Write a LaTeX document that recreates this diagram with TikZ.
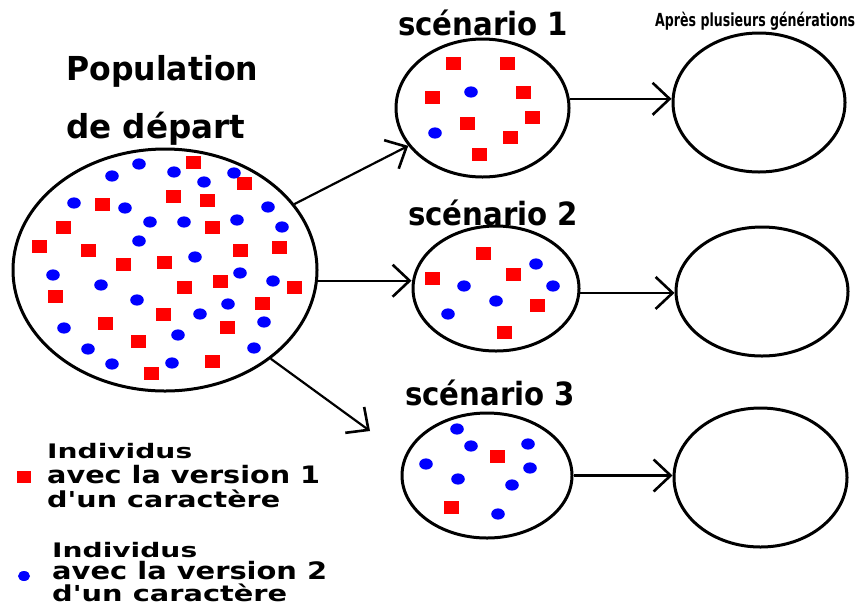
\documentclass[tikz,border=0pt]{standalone}
\usepackage{fontspec}
\setmainfont{DejaVu Sans}[Ligatures=TeXOff]
\usetikzlibrary{arrows.meta,shapes.geometric}

% stretch a line of text horizontally to a given width, keeping its height
\newcommand{\wfit}[2]{\resizebox{#1}{\height}{#2}}

\begin{document}
\begin{tikzpicture}[x=1pt,y=-1pt,
  pool/.style={ellipse, draw, line width=3pt, inner sep=0pt, fill=white},
  arr/.style={line width=2.2pt, -{Straight Barb[length=17pt,width=32pt,line width=2.6pt]}},
  lbl/.style={anchor=base west, inner sep=0pt, text=black, font=\bfseries},
  redind/.style={fill=red},
  blueind/.style={fill=blue}]
\useasboundingbox (0,0) rectangle (858,606);

% populations
\node[pool, minimum width=304pt, minimum height=242pt] (big) at (165,270) {};
\node[pool, minimum width=173pt, minimum height=138pt] (sc1) at (482.5,108) {};
\node[pool, minimum width=166pt, minimum height=125pt] (sc2) at (496,288.5) {};
\node[pool, minimum width=170pt, minimum height=125pt] (sc3) at (487,475.5) {};
\node[pool, minimum width=172pt, minimum height=139pt] (r1) at (759,102.5) {};
\node[pool, minimum width=172pt, minimum height=129pt] (r2) at (762,291.5) {};
\node[pool, minimum width=173pt, minimum height=139pt] (r3) at (760.5,477.5) {};

% individuals, version 1 (red squares)
\foreach \x/\y in {193/162,244/183,102/204,173/196,207/200,63/227,212/227,39/246,
  88/250,240/250,279/247,123/264,164/262,55/296,184/287,220/281,294/287,262/303,
  163/314,105/323,227/327,138/341,212/361,151/373,
  453/63,507/63,432/97,523/92,532/117,467/123,510/137,479/154,
  483/253,432/278,513/274,537/305,504/332,
  497/456,451/507}
  \fill[redind] ({\x-7.5},{\y-6.5}) rectangle ++(15,13);

% individuals, version 2 (blue dots)
\foreach \x/\y in {139/164,112/176,174/172,204/182,234/173,74/203,125/208,268/207,
  150/222,184/222,237/220,282/227,139/241,195/257,53/275,101/285,240/273,273/281,
  137/300,228/304,200/314,264/322,64/328,178/335,88/349,254/348,112/364,172/363,
  471/92,435/133,
  536/264,464/286,553/286,496/301,448/314,
  457/429,471/446,528/444,426/464,530/468,458/479,512/485,498/514}
  \fill[blueind] (\x,\y) ellipse [x radius=6.8, y radius=5.6];

% connectors
\coordinate (e3) at (370,431);
\draw[arr] (big.27) -- (sc1.207);
\draw[arr] (big.-4) -- (big.-4 -| sc2.west);
\draw[arr] (big.-40) -- (e3);
\draw[arr] (sc1.6.6) -- (sc1.6.6 -| r1.west);
\draw[arr] (sc2.-3.4) -- (sc2.-3.4 -| r2.west);
\draw[arr] (sc3.east) -- (sc3.east -| r3.west);

% titles
\node[lbl] (t1) at (66,80) {\fontsize{33}{40}\selectfont\wfit{192pt}{Population}};
\node[lbl] (t2) at (66,138) {\fontsize{33}{40}\selectfont\wfit{179pt}{de départ}};
\node[lbl] (s1) at (398,35) {\fontsize{32}{40}\selectfont\wfit{170pt}{scénario 1}};
\node[lbl] (s2) at (408,225) {\fontsize{32}{40}\selectfont\wfit{170pt}{scénario 2}};
\node[lbl] (s3) at (405,405) {\fontsize{32}{40}\selectfont\wfit{170pt}{scénario 3}};
\node[lbl] (gen) at (655,26) {\fontsize{18}{20}\selectfont\wfit{200pt}{Après plusieurs générations}};

% legend
\fill[redind] (16.5,471) rectangle (30.5,483);
\fill[blueind] (24,576) ellipse [x radius=6, y radius=5];
\node[lbl] (l1a) at (47,458) {\fontsize{20}{24}\selectfont\wfit{145pt}{Individus}};
\node[lbl] (l1b) at (47,483) {\fontsize{24}{28}\selectfont\wfit{273pt}{avec la version 1}};
\node[lbl] (l1c) at (47,507) {\fontsize{22}{26}\selectfont\wfit{233pt}{d'un caractère}};
\node[lbl] (l2a) at (52,557) {\fontsize{20}{24}\selectfont\wfit{145pt}{Individus}};
\node[lbl] (l2b) at (52,579) {\fontsize{24}{28}\selectfont\wfit{275pt}{avec la version 2}};
\node[lbl] (l2c) at (52,601) {\fontsize{22}{26}\selectfont\wfit{235pt}{d'un caractère}};
\end{tikzpicture}
\end{document}
